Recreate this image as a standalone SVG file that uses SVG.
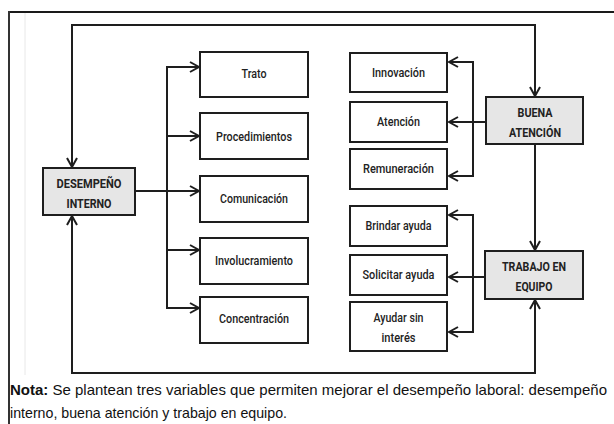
<svg xmlns="http://www.w3.org/2000/svg" width="614" height="424" viewBox="0 0 614 424">
<style>
.box{fill:#fff;stroke:#1e1e1e;stroke-width:2}
.main{fill:#e6e6e6;stroke:#1e1e1e;stroke-width:2}
.lbl{font-family:Roboto,"Liberation Sans",sans-serif;font-size:12.5px;font-weight:500;fill:#222;text-anchor:middle}
.blbl{font-family:Roboto,"Liberation Sans",sans-serif;font-size:12.5px;font-weight:700;fill:#222;text-anchor:middle}
.ln{fill:none;stroke:#1e1e1e;stroke-width:2}
.nota{font-family:"Liberation Sans",Arial,sans-serif;font-size:14.5px;fill:#111}
</style>
<defs>
<marker id="ar" markerUnits="userSpaceOnUse" markerWidth="12" markerHeight="14" refX="10" refY="6" orient="auto" viewBox="0 0 12 12">
<path d="M1,1 L10,6 L1,11" fill="none" stroke="#1e1e1e" stroke-width="2"/>
</marker>
</defs>
<rect width="614" height="424" fill="#fff"/>
<g id="frame">
<line x1="25" y1="13" x2="25" y2="375" stroke="#e8e8e8" stroke-width="1"/>
<line x1="8" y1="12" x2="614" y2="12" stroke="#1a1a1a" stroke-width="2"/>
<line x1="9" y1="11" x2="9" y2="424" stroke="#333" stroke-width="2"/>
</g>
<g id="connectors">
<path class="ln" d="M300,25 H72 V167" marker-end="url(#ar)"/>
<path class="ln" d="M300,25 H535 V96" marker-end="url(#ar)"/>
<path class="ln" d="M300,373 H72 V216" marker-end="url(#ar)"/>
<path class="ln" d="M300,373 H535 V300" marker-end="url(#ar)"/>
<path class="ln" d="M535,145 V250" marker-end="url(#ar)"/>
<path class="ln" d="M167,67 V308"/>
<path class="ln" d="M136,191 H199" marker-end="url(#ar)"/>
<path class="ln" d="M166,67 H199" marker-end="url(#ar)"/>
<path class="ln" d="M166,136 H199" marker-end="url(#ar)"/>
<path class="ln" d="M166,250 H199" marker-end="url(#ar)"/>
<path class="ln" d="M166,308 H199" marker-end="url(#ar)"/>
<path class="ln" d="M473,62 V176"/>
<path class="ln" d="M485,122 H449" marker-end="url(#ar)"/>
<path class="ln" d="M474,62 H449" marker-end="url(#ar)"/>
<path class="ln" d="M474,176 H449" marker-end="url(#ar)"/>
<path class="ln" d="M473,215 V332"/>
<path class="ln" d="M484,277 H449" marker-end="url(#ar)"/>
<path class="ln" d="M474,215 H449" marker-end="url(#ar)"/>
<path class="ln" d="M474,332 H449" marker-end="url(#ar)"/>
</g>
<g id="desempeno">
<rect class="main" x="43" y="168" width="92" height="47"/>
<text class="blbl" x="89" y="188" textLength="65" lengthAdjust="spacingAndGlyphs">DESEMPEÑO</text>
<text class="blbl" x="89" y="208" textLength="45" lengthAdjust="spacingAndGlyphs">INTERNO</text>
</g>
<g id="trato">
<rect class="box" x="200" y="52" width="108" height="45"/>
<text class="lbl" x="254" y="78" textLength="25" lengthAdjust="spacingAndGlyphs">Trato</text>
</g>
<g id="procedimientos">
<rect class="box" x="200" y="113" width="108" height="46"/>
<text class="lbl" x="254" y="141" textLength="76" lengthAdjust="spacingAndGlyphs">Procedimientos</text>
</g>
<g id="comunicacion">
<rect class="box" x="200" y="176" width="108" height="46"/>
<text class="lbl" x="254" y="203" textLength="68" lengthAdjust="spacingAndGlyphs">Comunicación</text>
</g>
<g id="involucramiento">
<rect class="box" x="200" y="238" width="108" height="46"/>
<text class="lbl" x="254" y="265" textLength="78" lengthAdjust="spacingAndGlyphs">Involucramiento</text>
</g>
<g id="concentracion">
<rect class="box" x="200" y="297" width="108" height="46"/>
<text class="lbl" x="254" y="323" textLength="70" lengthAdjust="spacingAndGlyphs">Concentración</text>
</g>
<g id="innovacion">
<rect class="box" x="350" y="53" width="97" height="39"/>
<text class="lbl" x="398.5" y="77" textLength="53" lengthAdjust="spacingAndGlyphs">Innovación</text>
</g>
<g id="atencion">
<rect class="box" x="350" y="102" width="97" height="40"/>
<text class="lbl" x="398.5" y="126" textLength="43" lengthAdjust="spacingAndGlyphs">Atención</text>
</g>
<g id="remuneracion">
<rect class="box" x="350" y="149" width="97" height="40"/>
<text class="lbl" x="398.5" y="173" textLength="71" lengthAdjust="spacingAndGlyphs">Remuneración</text>
</g>
<g id="brindar">
<rect class="box" x="350" y="206" width="97" height="40"/>
<text class="lbl" x="398.5" y="230" textLength="66" lengthAdjust="spacingAndGlyphs">Brindar ayuda</text>
</g>
<g id="solicitar">
<rect class="box" x="350" y="255" width="97" height="40"/>
<text class="lbl" x="398.5" y="279" textLength="72" lengthAdjust="spacingAndGlyphs">Solicitar ayuda</text>
</g>
<g id="ayudar">
<rect class="box" x="350" y="302" width="97" height="49"/>
<text class="lbl" x="398.5" y="322" textLength="50" lengthAdjust="spacingAndGlyphs">Ayudar sin</text>
<text class="lbl" x="398.5" y="342" textLength="34" lengthAdjust="spacingAndGlyphs">interés</text>
</g>
<g id="buena">
<rect class="main" x="486" y="97" width="97" height="47"/>
<text class="blbl" x="535" y="117" textLength="35" lengthAdjust="spacingAndGlyphs">BUENA</text>
<text class="blbl" x="535" y="137" textLength="52" lengthAdjust="spacingAndGlyphs">ATENCIÓN</text>
</g>
<g id="trabajo">
<rect class="main" x="485" y="251" width="98" height="48"/>
<text class="blbl" x="534" y="271" textLength="64" lengthAdjust="spacingAndGlyphs">TRABAJO EN</text>
<text class="blbl" x="534" y="291" textLength="37" lengthAdjust="spacingAndGlyphs">EQUIPO</text>
</g>
<g id="nota">
<text class="nota" x="10" y="395" textLength="597" lengthAdjust="spacingAndGlyphs"><tspan font-weight="700">Nota:</tspan> Se plantean tres variables que permiten mejorar el desempeño laboral: desempeño</text>
<text class="nota" x="10" y="418" textLength="277" lengthAdjust="spacingAndGlyphs">interno, buena atención y trabajo en equipo.</text>
</g>
</svg>
